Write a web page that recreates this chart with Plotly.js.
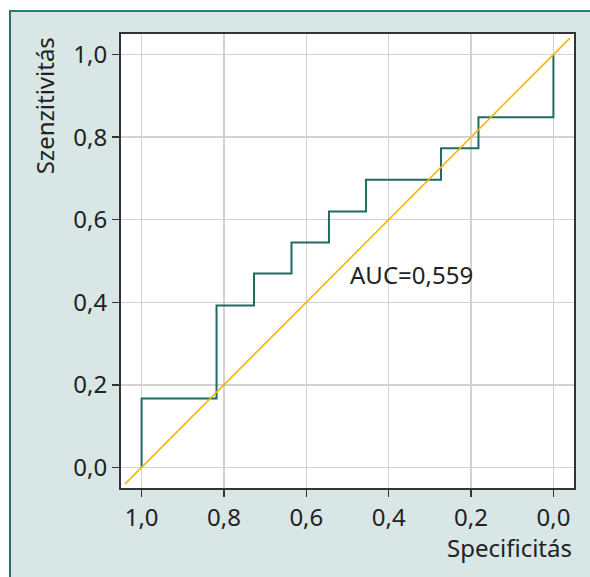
<!DOCTYPE html>
<html>
<head>
<meta charset="utf-8">
<script src="https://cdn.plot.ly/plotly-3.0.1.min.js"></script>
<style>
html,body{margin:0;padding:0;background:#ffffff;width:590px;height:577px;overflow:hidden;}
#frame{position:absolute;left:9px;top:10px;width:579px;height:565px;background:#d8e7e6;border-left:2px solid #2a7169;border-top:2px solid #2a7d73;}
#chart{position:absolute;left:0;top:0;width:590px;height:577px;}
</style>
</head>
<body>
<div id="frame"></div>
<div id="chart"></div>
<script>
// ROC curve points (specificity on x, sensitivity on y)
const specificity = [1.0, 0.818, 0.727, 0.636, 0.545, 0.455, 0.273, 0.182, 0.0, 0.0];
const sensitivity = [0.0, 0.167, 0.392, 0.470, 0.545, 0.620, 0.697, 0.773, 0.848, 1.0];
// reference diagonal
const diagX = [1.04, -0.04];
const diagY = [-0.04, 1.04];
const tickVals = [0, 0.2, 0.4, 0.6, 0.8, 1.0];
const aucLabel = "AUC=0,559";
const xTitle = "Specificitás";
const yTitle = "Szenzitivitás";

const FONT = "Noto Sans, sans-serif";
const traces = [
  {x: specificity, y: sensitivity, mode: "lines", line: {shape: "vh", color: "#1f6b62", width: 2}, hoverinfo: "skip"},
  {x: diagX, y: diagY, mode: "lines", line: {color: "#f7b500", width: 1.6}, hoverinfo: "skip"}
];
const axisCommon = {
  tickvals: tickVals, tickformat: ".1f", showgrid: true, gridcolor: "#d2d2d2", gridwidth: 1.5,
  zeroline: false, showline: true, linecolor: "#333333", linewidth: 2, mirror: true,
  ticks: "outside", ticklen: 7, tickwidth: 1.5, tickcolor: "#333333",
  tickfont: {family: FONT, size: 24, color: "#222222"}, autorange: false
};
const layout = {
  width: 590, height: 577, showlegend: false,
  paper_bgcolor: "rgba(0,0,0,0)", plot_bgcolor: "#ffffff",
  separators: ", ",
  margin: {l: 121, r: 16, t: 34, b: 89},
  xaxis: Object.assign({}, axisCommon, {range: [1.05, -0.05]}),
  yaxis: Object.assign({}, axisCommon, {range: [-0.05, 1.05]}),
  annotations: [
    {x: 0.5, y: 0.467, xref: "x", yref: "y", text: aucLabel, showarrow: false, xanchor: "left", yanchor: "middle",
     font: {family: FONT, size: 24, color: "#222222"}},
    {x: 1, y: -0.13, xref: "paper", yref: "paper", text: xTitle, showarrow: false, xanchor: "right", yanchor: "middle",
     font: {family: FONT, size: 24, color: "#222222"}},
    {x: -0.168, y: 0.998, xref: "paper", yref: "paper", text: yTitle, showarrow: false, textangle: -90,
     xanchor: "center", yanchor: "top", font: {family: FONT, size: 24, color: "#222222"}}
  ]
};
Plotly.newPlot("chart", traces, layout, {displayModeBar: false, staticPlot: true});
</script>
</body>
</html>
